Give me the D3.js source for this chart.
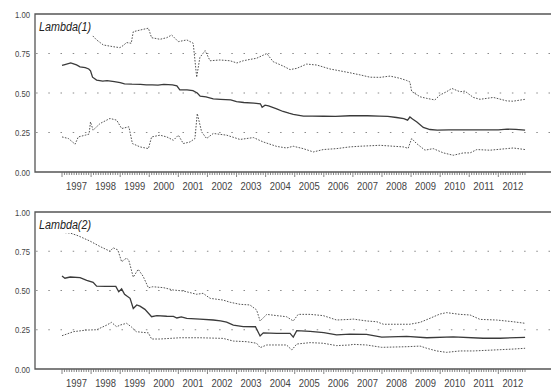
<!DOCTYPE html>
<html>
<head>
<meta charset="utf-8">
<script src="https://cdn.jsdelivr.net/npm/d3@7"></script>
<style>
  body { margin: 0; background: #fff; }
  svg text { font-family: "Liberation Sans", Arial, sans-serif; }
</style>
</head>
<body>
<div id="chart"></div>
<script>
// Lambda(1): [decimal year, value]
var mid1 = [[1997.00,0.675],[1997.10,0.680],[1997.30,0.690],[1997.50,0.678],[1997.62,0.666],[1997.80,0.660],[1997.92,0.652],[1997.98,0.640],[1998.05,0.600],[1998.19,0.582],[1998.40,0.575],[1998.55,0.578],[1998.80,0.572],[1999.00,0.566],[1999.15,0.558],[1999.40,0.556],[1999.70,0.555],[1999.90,0.552],[2000.10,0.551],[2000.30,0.550],[2000.50,0.554],[2000.80,0.552],[2000.95,0.545],[2001.05,0.520],[2001.30,0.520],[2001.50,0.515],[2001.65,0.500],[2001.75,0.480],[2001.95,0.475],[2002.20,0.463],[2002.45,0.460],[2002.80,0.457],[2003.00,0.446],[2003.25,0.440],[2003.60,0.436],[2003.82,0.432],[2003.88,0.410],[2003.98,0.423],[2004.10,0.418],[2004.38,0.400],[2004.60,0.383],[2004.80,0.372],[2004.95,0.365],[2005.10,0.360],[2005.30,0.354],[2005.60,0.354],[2006.00,0.353],[2006.40,0.352],[2006.90,0.356],[2007.50,0.356],[2007.90,0.354],[2008.20,0.352],[2008.50,0.345],[2008.75,0.338],[2008.88,0.328],[2008.96,0.348],[2009.05,0.335],[2009.20,0.317],[2009.42,0.282],[2009.65,0.269],[2009.90,0.265],[2010.30,0.267],[2010.70,0.266],[2011.00,0.266],[2011.50,0.266],[2012.00,0.266],[2012.30,0.271],[2012.60,0.270],[2012.92,0.265]]
var upper1 = [[1997.00,0.90],[1997.30,0.91],[1997.60,0.90],[1997.96,0.880],[1998.19,0.836],[1998.42,0.804],[1998.76,0.793],[1998.99,0.787],[1999.10,0.800],[1999.22,0.819],[1999.38,0.815],[1999.45,0.888],[1999.79,0.903],[1999.97,0.910],[2000.08,0.850],[2000.37,0.840],[2000.60,0.850],[2000.77,0.867],[2001.00,0.825],[2001.29,0.836],[2001.51,0.815],[2001.63,0.600],[2001.74,0.725],[2001.92,0.768],[2002.09,0.704],[2002.43,0.709],[2002.78,0.704],[2003.01,0.690],[2003.23,0.704],[2003.45,0.712],[2003.69,0.720],[2004.04,0.750],[2004.26,0.698],[2004.61,0.670],[2004.84,0.648],[2005.07,0.656],[2005.41,0.683],[2005.76,0.677],[2006.21,0.652],[2006.56,0.640],[2006.90,0.628],[2007.24,0.615],[2007.59,0.600],[2007.93,0.599],[2008.28,0.607],[2008.62,0.593],[2008.85,0.579],[2008.96,0.570],[2009.02,0.510],[2009.31,0.476],[2009.54,0.466],[2009.82,0.456],[2009.99,0.487],[2010.22,0.508],[2010.40,0.529],[2010.68,0.508],[2010.85,0.512],[2011.14,0.472],[2011.37,0.460],[2011.83,0.472],[2012.29,0.450],[2012.50,0.448],[2012.92,0.460]]
var lower1 = [[1997.00,0.222],[1997.22,0.212],[1997.45,0.176],[1997.56,0.222],[1997.80,0.233],[1997.93,0.240],[1997.98,0.317],[1998.07,0.265],[1998.31,0.307],[1998.65,0.339],[1998.88,0.328],[1999.05,0.275],[1999.30,0.286],[1999.42,0.180],[1999.68,0.159],[1999.97,0.148],[2000.08,0.222],[2000.37,0.233],[2000.60,0.222],[2000.83,0.201],[2001.00,0.233],[2001.17,0.180],[2001.40,0.190],[2001.57,0.212],[2001.65,0.370],[2001.80,0.254],[2001.97,0.212],[2002.20,0.244],[2002.66,0.233],[2003.12,0.206],[2003.58,0.218],[2003.92,0.190],[2004.38,0.162],[2004.72,0.152],[2004.95,0.163],[2005.29,0.148],[2005.64,0.127],[2005.98,0.142],[2006.44,0.148],[2006.90,0.159],[2007.24,0.163],[2007.93,0.169],[2008.39,0.163],[2008.73,0.159],[2008.90,0.150],[2009.02,0.212],[2009.19,0.180],[2009.48,0.138],[2009.76,0.148],[2010.11,0.121],[2010.45,0.106],[2010.80,0.121],[2011.03,0.121],[2011.26,0.142],[2011.71,0.138],[2012.29,0.148],[2012.51,0.152],[2012.92,0.142]]

// Lambda(2)
var mid2 = [[1997.00,0.592],[1997.10,0.578],[1997.28,0.586],[1997.62,0.582],[1997.85,0.565],[1998.07,0.552],[1998.19,0.528],[1998.50,0.526],[1998.85,0.526],[1998.95,0.492],[1999.05,0.510],[1999.15,0.476],[1999.34,0.450],[1999.45,0.385],[1999.57,0.408],[1999.68,0.400],[1999.85,0.380],[2000.08,0.333],[2000.26,0.340],[2000.60,0.336],[2000.83,0.335],[2000.95,0.325],[2001.10,0.332],[2001.29,0.323],[2001.74,0.318],[2002.20,0.312],[2002.45,0.306],[2002.66,0.298],[2002.89,0.280],[2003.23,0.270],[2003.65,0.269],[2003.81,0.210],[2003.92,0.230],[2004.38,0.227],[2004.84,0.227],[2004.95,0.203],[2005.07,0.244],[2005.53,0.240],[2006.00,0.232],[2006.44,0.217],[2006.90,0.222],[2007.47,0.220],[2007.99,0.203],[2008.85,0.208],[2009.54,0.199],[2010.45,0.204],[2011.48,0.196],[2012.06,0.196],[2012.92,0.202]]
var upper2 = [[1997.00,0.870],[1997.28,0.866],[1997.55,0.849],[1997.96,0.815],[1998.31,0.780],[1998.65,0.750],[1998.76,0.772],[1998.92,0.758],[1999.05,0.683],[1999.22,0.707],[1999.30,0.690],[1999.45,0.585],[1999.62,0.635],[1999.79,0.590],[1999.97,0.517],[2000.12,0.524],[2000.49,0.518],[2000.83,0.503],[2001.17,0.497],[2001.63,0.476],[2001.85,0.482],[2002.09,0.450],[2002.54,0.439],[2002.78,0.425],[2003.12,0.412],[2003.46,0.408],[2003.69,0.376],[2003.81,0.306],[2004.04,0.348],[2004.38,0.340],[2004.72,0.333],[2004.95,0.306],[2005.12,0.348],[2005.53,0.348],[2005.98,0.340],[2006.44,0.312],[2006.90,0.316],[2007.01,0.318],[2007.47,0.306],[2007.82,0.301],[2008.05,0.285],[2008.96,0.285],[2009.31,0.297],[2009.65,0.323],[2009.99,0.350],[2010.22,0.359],[2010.68,0.348],[2011.03,0.344],[2011.37,0.316],[2011.94,0.312],[2012.51,0.301],[2012.92,0.291]]
var lower2 = [[1997.00,0.212],[1997.40,0.238],[1997.85,0.248],[1998.19,0.250],[1998.54,0.280],[1998.70,0.297],[1998.88,0.269],[1999.00,0.280],[1999.22,0.291],[1999.38,0.269],[1999.55,0.238],[1999.79,0.233],[1999.97,0.230],[2000.08,0.191],[2000.37,0.191],[2001.06,0.199],[2001.74,0.199],[2002.54,0.195],[2002.89,0.178],[2003.35,0.174],[2003.69,0.164],[2003.81,0.136],[2004.04,0.153],[2004.72,0.153],[2004.90,0.121],[2005.07,0.159],[2005.53,0.168],[2005.98,0.164],[2006.44,0.149],[2006.90,0.153],[2007.01,0.157],[2007.47,0.153],[2007.99,0.138],[2008.85,0.142],[2009.31,0.146],[2009.54,0.132],[2009.88,0.115],[2010.22,0.106],[2010.68,0.115],[2011.14,0.115],[2011.60,0.119],[2012.06,0.123],[2012.51,0.127],[2012.92,0.132]]

var years = d3.range(1997, 2013)
var yTicks = [0, 0.25, 0.5, 0.75, 1]
var gridVals = [0.25, 0.5, 0.75]

var W = 551, H = 392
var svg = d3.select('#chart').append('svg')
  .attr('width', W).attr('height', H)

// time axis: first obs Jan 1997, last Dec 2012
var x = d3.scaleLinear().domain([1997, 2012 + 11 / 12]).range([62, 525])
var frameL = 35, frameR = 551

var panels = [
  { title: 'Lambda(1)', top: 14, bottom: 172, mid: mid1, up: upper1, lo: lower1 },
  { title: 'Lambda(2)', top: 212, bottom: 369, mid: mid2, up: upper2, lo: lower2 }
]

panels.forEach(function (p) {
  var y = d3.scaleLinear().domain([0, 1]).range([p.bottom, p.top])
  var g = svg.append('g')

  // dotted grid
  g.selectAll('.grid').data(gridVals).enter().append('line')
    .attr('x1', frameL).attr('x2', frameR)
    .attr('y1', d => y(d)).attr('y2', d => y(d))
    .attr('stroke', '#8a8a8a')
    .attr('stroke-width', 1.2)
    .attr('stroke-dasharray', '1.5,10.7')
    .attr('stroke-dashoffset', 11.1)

  var line = d3.line()
    .x(d => x(d[0]))
    .y(d => y(d[1]))

  // bands
  ;[p.up, p.lo].forEach(function (s) {
    g.append('path')
      .attr('d', line(s))
      .attr('fill', 'none')
      .attr('stroke', '#555')
      .attr('stroke-width', 1)
      .attr('stroke-dasharray', '1.6,1.4')
  })
  g.append('path')
    .attr('d', line(p.mid))
    .attr('fill', 'none')
    .attr('stroke', '#3a3a3a')
    .attr('stroke-width', 1.3)

  // frame: top, left, bottom
  g.append('path')
    .attr('d', 'M' + frameR + ',' + p.top + 'H' + frameL + 'V' + p.bottom + 'H' + frameR)
    .attr('fill', 'none')
    .attr('stroke', '#555')
    .attr('stroke-width', 1.3)

  // y labels (condensed)
  g.selectAll('.yl').data(yTicks).enter().append('text')
    .attr('x', 30)
    .attr('y', d => y(d) + 3.5)
    .attr('text-anchor', 'end')
    .attr('font-size', 9.5)
    .attr('fill', '#444')
    .attr('textLength', 15)
    .attr('lengthAdjust', 'spacingAndGlyphs')
    .text(d => d3.format('.2f')(d))

  // month ticks, longer at each year
  var months = d3.range(0, 192).map(i => 1997 + i / 12)
  g.selectAll('.mt').data(months).enter().append('line')
    .attr('x1', d => x(d)).attr('x2', d => x(d))
    .attr('y1', p.bottom)
    .attr('y2', (d, i) => p.bottom + (i % 12 === 0 ? 5 : 3))
    .attr('stroke', '#666')
    .attr('stroke-width', 0.8)

  g.selectAll('.xl').data(years).enter().append('text')
    .attr('x', d => x(d + 0.5))
    .attr('y', p.bottom + 18)
    .attr('text-anchor', 'middle')
    .attr('font-size', 11)
    .attr('fill', '#444')
    .attr('textLength', 21)
    .attr('lengthAdjust', 'spacingAndGlyphs')
    .text(d => d)

  // title with white box
  g.append('rect')
    .attr('x', frameL + 2).attr('y', p.top + 2)
    .attr('width', 56).attr('height', 19)
    .attr('fill', '#fff')
  g.append('text')
    .attr('x', frameL + 4)
    .attr('y', p.top + 17)
    .attr('font-size', 12.5)
    .attr('font-style', 'italic')
    .attr('fill', '#222')
    .attr('textLength', 52)
    .attr('lengthAdjust', 'spacingAndGlyphs')
    .text(p.title)
})
</script>
</body>
</html>
